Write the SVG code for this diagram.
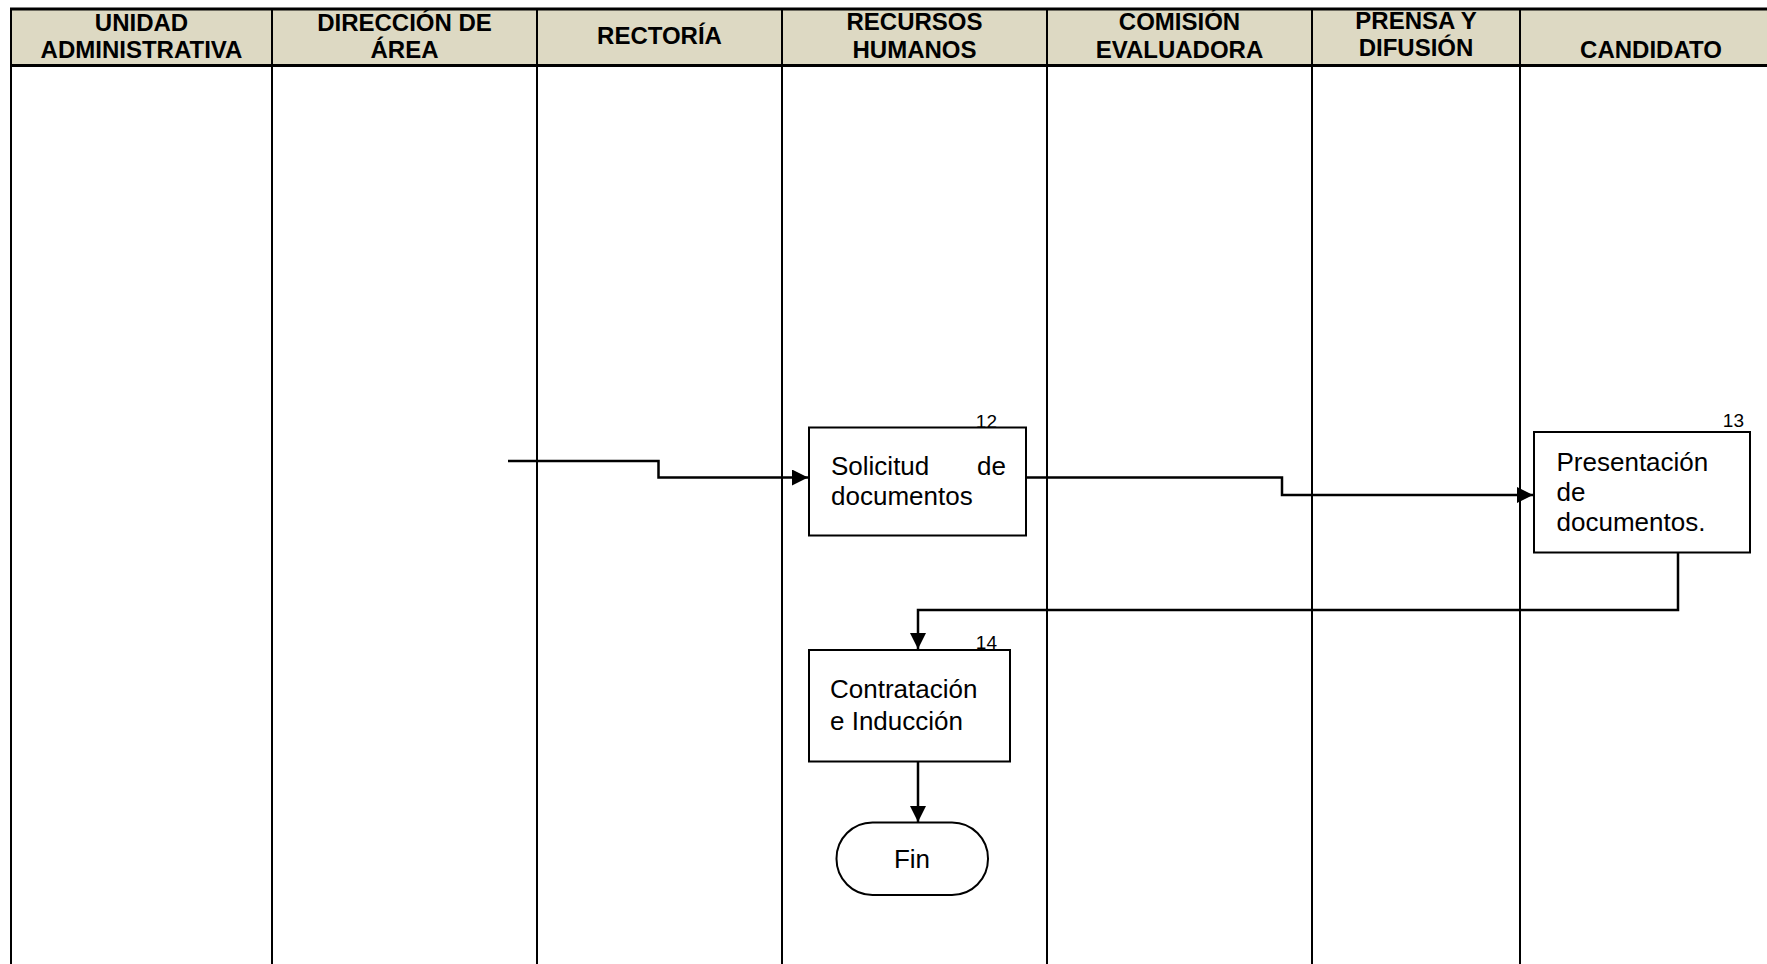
<svg xmlns="http://www.w3.org/2000/svg" width="1767" height="964" viewBox="0 0 1767 964">
<style>
.hdr{font-family:"Liberation Sans",Arial,sans-serif;font-weight:bold;font-size:24px;text-anchor:middle;fill:#000}
.lane{stroke:#000;stroke-width:2;fill:none}
.box{fill:#fff;stroke:#000;stroke-width:2}
.t{font-family:"Liberation Sans",Arial,sans-serif;font-size:26px;fill:#000}
.num{font-family:"Liberation Sans",Arial,sans-serif;font-size:19px;fill:#000;text-anchor:end}
.conn{stroke:#000;stroke-width:2.5;fill:none}
</style>
<defs>
<marker id="arr" markerUnits="userSpaceOnUse" markerWidth="18" markerHeight="18" refX="16" refY="8" orient="auto">
<path d="M0,0 L16,8 L0,16 Z" fill="#000"/>
</marker>
</defs>
<rect width="1767" height="964" fill="#fff"/>
<g id="header">
<rect x="11" y="9" width="1760" height="57" fill="#ddd9c3"/>
<line x1="10" y1="9" x2="1767" y2="9" stroke="#000" stroke-width="3"/>
<line x1="10" y1="65.5" x2="1767" y2="65.5" stroke="#000" stroke-width="3"/>
<text class="hdr" x="141.5" y="31">UNIDAD</text>
<text class="hdr" x="141.5" y="58">ADMINISTRATIVA</text>
<text class="hdr" x="404.5" y="31">DIRECCIÓN DE</text>
<text class="hdr" x="404.5" y="58">ÁREA</text>
<text class="hdr" x="659.5" y="44">RECTORÍA</text>
<text class="hdr" x="914.5" y="30">RECURSOS</text>
<text class="hdr" x="914.5" y="58">HUMANOS</text>
<text class="hdr" x="1179.5" y="30">COMISIÓN</text>
<text class="hdr" x="1179.5" y="58">EVALUADORA</text>
<text class="hdr" x="1416" y="29">PRENSA Y</text>
<text class="hdr" x="1416" y="56">DIFUSIÓN</text>
<text class="hdr" x="1651" y="58">CANDIDATO</text>
</g>
<g id="lanes">
<line class="lane" x1="11" y1="8" x2="11" y2="964"/>
<line class="lane" x1="272" y1="9" x2="272" y2="964"/>
<line class="lane" x1="537" y1="9" x2="537" y2="964"/>
<line class="lane" x1="782" y1="9" x2="782" y2="964"/>
<line class="lane" x1="1047" y1="9" x2="1047" y2="964"/>
<line class="lane" x1="1312" y1="9" x2="1312" y2="964"/>
<line class="lane" x1="1520" y1="9" x2="1520" y2="964"/>
</g>
<g id="connectors">
<path class="conn" d="M508,461 H658.5 V477.5 H808" marker-end="url(#arr)"/>
<path class="conn" d="M1026,477.5 H1282 V495 H1533" marker-end="url(#arr)"/>
<path class="conn" d="M1678,552.5 V610 H918 V649" marker-end="url(#arr)"/>
<path class="conn" d="M918,761.5 V822" marker-end="url(#arr)"/>
</g>
<g id="node12">
<rect class="box" x="809" y="427.5" width="217" height="108"/>
<text class="num" x="997" y="428">12</text>
<text class="t" x="831" y="475">Solicitud</text>
<text class="t" x="1006" y="475" text-anchor="end">de</text>
<text class="t" x="831" y="505">documentos</text>
</g>
<g id="node13">
<rect class="box" x="1534" y="432" width="216" height="120.5"/>
<text class="num" x="1744" y="427">13</text>
<text class="t" x="1556.5" y="471">Presentación</text>
<text class="t" x="1556.5" y="501">de</text>
<text class="t" x="1556.5" y="531">documentos.</text>
</g>
<g id="node14">
<rect class="box" x="809" y="650" width="201" height="111.5"/>
<text class="num" x="997" y="649">14</text>
<text class="t" x="830" y="698">Contratación</text>
<text class="t" x="830" y="729.5">e Inducción</text>
</g>
<g id="fin">
<rect class="box" x="836.5" y="822.5" width="151.5" height="72.5" rx="36" ry="36" stroke-width="1.5"/>
<text class="t" x="912" y="868" text-anchor="middle">Fin</text>
</g>
</svg>
